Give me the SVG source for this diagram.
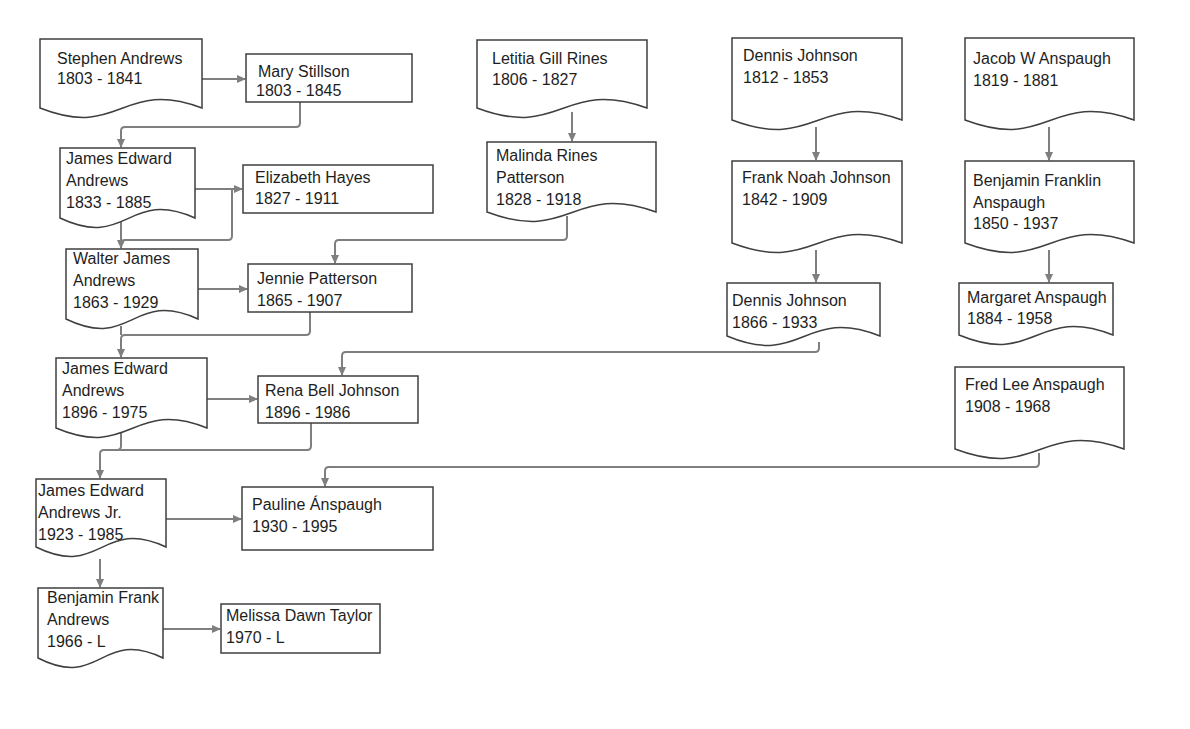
<svg xmlns="http://www.w3.org/2000/svg" width="1190" height="729" viewBox="0 0 1190 729">
<style>
.box{fill:#ffffff;stroke:#3f3f3f;stroke-width:1.5}
.ln{fill:none;stroke:#7f7f7f;stroke-width:2}
.ar{fill:none;stroke:#7f7f7f;stroke-width:2;marker-end:url(#ah)}
text{font-family:"Liberation Sans",Arial,sans-serif;font-size:16px;fill:#1e1e1e}
</style>
<defs>
<marker id="ah" markerUnits="userSpaceOnUse" markerWidth="9" markerHeight="8" refX="8" refY="4" orient="auto">
<path d="M0,0 L9,4 L0,8 z" fill="#7f7f7f"/>
</marker>
</defs>
<rect width="1190" height="729" fill="#ffffff"/>
<g id="connectors">
<path class="ar" d="M202,79 H245"/>
<path class="ar" d="M300,102 V123 Q300,127 296,127 H125 Q121,127 121,131 V147"/>
<path class="ar" d="M195,189 H242"/>
<path class="ln" d="M121,222 V240"/>
<path class="ar" d="M232,189 V236 Q232,240 228,240 H125 Q121,240 121,244 V248"/>
<path class="ar" d="M198,289 H247"/>
<path class="ar" d="M567,216 V236 Q567,240 563,240 H339 Q335,240 335,244 V263"/>
<path class="ln" d="M121,326 V335"/>
<path class="ar" d="M310,312 V331 Q310,335 306,335 H125 Q121,335 121,339 V357"/>
<path class="ar" d="M207,399 H257"/>
<path class="ar" d="M819,342 V348 Q819,352 815,352 H346 Q342,352 342,356 V375"/>
<path class="ln" d="M121,433 V446 Q121,450 117,450"/>
<path class="ar" d="M311,423 V446 Q311,450 307,450 H104 Q100,450 100,454 V478"/>
<path class="ar" d="M1039,453 V463 Q1039,467 1035,467 H329 Q325,467 325,471 V486"/>
<path class="ar" d="M166,519 H241"/>
<path class="ar" d="M100,559 V587"/>
<path class="ar" d="M163,629 H220"/>
<path class="ar" d="M572,112 V141"/>
<path class="ar" d="M816,127 V160"/>
<path class="ar" d="M816,250 V282"/>
<path class="ar" d="M1049,127 V160"/>
<path class="ar" d="M1049,250 V282"/>
</g>
<g id="stephen-andrews">
<path class="box" d="M40,39 H202 V108 C121,78 121,140 40,108 Z"/>
<text x="57" y="64">Stephen Andrews</text>
<text x="57" y="84">1803 - 1841</text>
</g>
<g id="mary-stillson">
<rect class="box" x="246" y="54" width="166" height="48"/>
<text x="258" y="77">Mary Stillson</text>
<text x="256" y="96">1803 - 1845</text>
</g>
<g id="james-edward-andrews-1833">
<path class="box" d="M60,148 H195 V218 C127.5,188 127.5,250 60,218 Z"/>
<text x="66" y="164">James Edward</text>
<text x="66" y="186">Andrews</text>
<text x="66" y="208">1833 - 1885</text>
</g>
<g id="elizabeth-hayes">
<rect class="box" x="243" y="165" width="190" height="48"/>
<text x="255" y="183">Elizabeth Hayes</text>
<text x="255" y="204">1827 - 1911</text>
</g>
<g id="walter-james-andrews">
<path class="box" d="M66,249 H198 V319 C132,289 132,351 66,319 Z"/>
<text x="73" y="264">Walter James</text>
<text x="73" y="286">Andrews</text>
<text x="73" y="308">1863 - 1929</text>
</g>
<g id="jennie-patterson">
<rect class="box" x="248" y="264" width="164" height="48"/>
<text x="257" y="284">Jennie Patterson</text>
<text x="257" y="306">1865 - 1907</text>
</g>
<g id="james-edward-andrews-1896">
<path class="box" d="M56,358 H207 V428 C131.5,398 131.5,460 56,428 Z"/>
<text x="62" y="374">James Edward</text>
<text x="62" y="396">Andrews</text>
<text x="62" y="418">1896 - 1975</text>
</g>
<g id="rena-bell-johnson">
<rect class="box" x="258" y="376" width="160" height="47"/>
<text x="265" y="396">Rena Bell Johnson</text>
<text x="265" y="418">1896 - 1986</text>
</g>
<g id="james-edward-andrews-jr">
<path class="box" d="M36,479 H166 V547 C101,517 101,579 36,547 Z"/>
<text x="38" y="496">James Edward</text>
<text x="38" y="518">Andrews Jr.</text>
<text x="38" y="540">1923 - 1985</text>
</g>
<g id="pauline-anspaugh">
<rect class="box" x="242" y="487" width="191" height="63"/>
<text x="252" y="510">Pauline Ánspaugh</text>
<text x="252" y="532">1930 - 1995</text>
</g>
<g id="benjamin-frank-andrews">
<path class="box" d="M38,588 H163 V658 C100.5,628 100.5,690 38,658 Z"/>
<text x="47" y="603">Benjamin Frank</text>
<text x="47" y="625">Andrews</text>
<text x="47" y="647">1966 - L</text>
</g>
<g id="melissa-dawn-taylor">
<rect class="box" x="221" y="604" width="159" height="49"/>
<text x="226" y="621">Melissa Dawn Taylor</text>
<text x="226" y="643">1970 - L</text>
</g>
<g id="letitia-gill-rines">
<path class="box" d="M477,40 H647 V108 C562,78 562,140 477,108 Z"/>
<text x="492" y="64">Letitia Gill Rines</text>
<text x="492" y="85">1806 - 1827</text>
</g>
<g id="malinda-rines-patterson">
<path class="box" d="M487,142 H656 V212 C571.5,182 571.5,244 487,212 Z"/>
<text x="496" y="161">Malinda Rines</text>
<text x="496" y="183">Patterson</text>
<text x="496" y="205">1828 - 1918</text>
</g>
<g id="dennis-johnson-1812">
<path class="box" d="M732,38 H902 V120 C817,90 817,152 732,120 Z"/>
<text x="743" y="61">Dennis Johnson</text>
<text x="743" y="83">1812 - 1853</text>
</g>
<g id="frank-noah-johnson">
<path class="box" d="M732,161 H902 V243 C817,213 817,275 732,243 Z"/>
<text x="742" y="183">Frank Noah Johnson</text>
<text x="742" y="205">1842 - 1909</text>
</g>
<g id="dennis-johnson-1866">
<path class="box" d="M727,283 H880 V336 C803.5,306 803.5,368 727,336 Z"/>
<text x="732" y="306">Dennis Johnson</text>
<text x="732" y="328">1866 - 1933</text>
</g>
<g id="jacob-w-anspaugh">
<path class="box" d="M965,38 H1134 V120 C1049.5,90 1049.5,152 965,120 Z"/>
<text x="973" y="64">Jacob W Anspaugh</text>
<text x="973" y="86">1819 - 1881</text>
</g>
<g id="benjamin-franklin-anspaugh">
<path class="box" d="M965,161 H1134 V243 C1049.5,213 1049.5,275 965,243 Z"/>
<text x="973" y="186">Benjamin Franklin</text>
<text x="973" y="208">Anspaugh</text>
<text x="973" y="229">1850 - 1937</text>
</g>
<g id="margaret-anspaugh">
<path class="box" d="M959,283 H1113 V335 C1036,305 1036,367 959,335 Z"/>
<text x="967" y="303">Margaret Anspaugh</text>
<text x="967" y="324">1884 - 1958</text>
</g>
<g id="fred-lee-anspaugh">
<path class="box" d="M955,367 H1124 V449 C1039.5,419 1039.5,481 955,449 Z"/>
<text x="965" y="390">Fred Lee Anspaugh</text>
<text x="965" y="412">1908 - 1968</text>
</g>
</svg>
